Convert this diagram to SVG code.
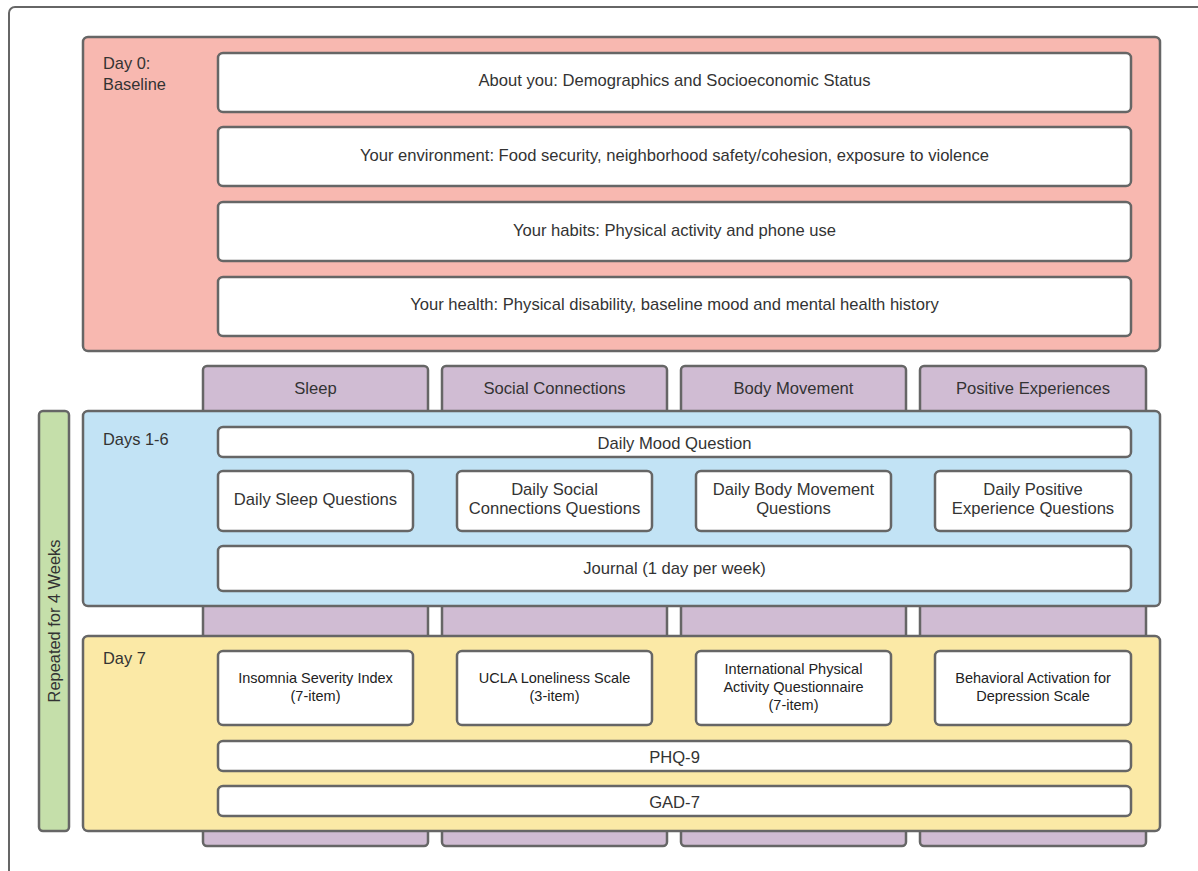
<svg xmlns="http://www.w3.org/2000/svg" width="1198" height="871" viewBox="0 0 1198 871">
<style>
text{font-family:"Liberation Sans",Arial,sans-serif;fill:#333;}
.t{font-size:16.6px;text-anchor:middle;}
.s{font-size:14.5px;text-anchor:middle;fill:#222;}
.l{font-size:16.4px;}
.box{fill:#fff;stroke:#666;stroke-width:2.5;}
.col{fill:#d0bcd3;stroke:#666;stroke-width:2.5;}
.sec{stroke:#666;stroke-width:2.5;}
</style>
<rect x="9" y="7" width="1200" height="880" rx="6" fill="#fff" stroke="#666" stroke-width="2"/>
<g id="columns">
<rect class="col" x="203" y="366" width="225" height="480" rx="4"/>
<rect class="col" x="442" y="366" width="225" height="480" rx="4"/>
<rect class="col" x="681" y="366" width="225" height="480" rx="4"/>
<rect class="col" x="920" y="366" width="226" height="480" rx="4"/>
<text class="t" x="315.5" y="394">Sleep</text>
<text class="t" x="554.5" y="394">Social Connections</text>
<text class="t" x="793.5" y="394">Body Movement</text>
<text class="t" x="1033" y="394">Positive Experiences</text>
</g>
<g id="baseline">
<rect class="sec" x="83" y="37" width="1077" height="314" rx="5" fill="#f8b8b0"/>
<text class="l" x="103" y="69">Day 0:</text>
<text class="l" x="103" y="90">Baseline</text>
<rect class="box" x="218" y="53" width="913" height="59" rx="5"/>
<text class="t" x="674.5" y="86">About you: Demographics and Socioeconomic Status</text>
<rect class="box" x="218" y="127" width="913" height="59" rx="5"/>
<text class="t" x="674.5" y="161">Your environment: Food security, neighborhood safety/cohesion, exposure to violence</text>
<rect class="box" x="218" y="202" width="913" height="59" rx="5"/>
<text class="t" x="674.5" y="236">Your habits: Physical activity and phone use</text>
<rect class="box" x="218" y="277" width="913" height="59" rx="5"/>
<text class="t" x="674.5" y="310">Your health: Physical disability, baseline mood and mental health history</text>
</g>
<g id="repeat">
<rect class="sec" x="39" y="411" width="30" height="420" rx="4" fill="#c5dfaa"/>
<text class="l" x="0" y="0" text-anchor="middle" transform="translate(59.5 621) rotate(-90)">Repeated for 4 Weeks</text>
</g>
<g id="days16">
<rect class="sec" x="83" y="411" width="1077" height="195" rx="5" fill="#c2e3f5"/>
<text class="l" x="103" y="445">Days 1-6</text>
<rect class="box" x="218" y="427" width="913" height="30" rx="5"/>
<text class="t" x="674.5" y="449">Daily Mood Question</text>
<rect class="box" x="218" y="471" width="195" height="60" rx="5"/>
<text class="t" x="315.5" y="505">Daily Sleep Questions</text>
<rect class="box" x="457" y="471" width="195" height="60" rx="5"/>
<text class="t" x="554.5" y="495">Daily Social</text>
<text class="t" x="554.5" y="514">Connections Questions</text>
<rect class="box" x="696" y="471" width="195" height="60" rx="5"/>
<text class="t" x="793.5" y="495">Daily Body Movement</text>
<text class="t" x="793.5" y="514">Questions</text>
<rect class="box" x="935" y="471" width="196" height="60" rx="5"/>
<text class="t" x="1033" y="495">Daily Positive</text>
<text class="t" x="1033" y="514">Experience Questions</text>
<rect class="box" x="218" y="546" width="913" height="45" rx="5"/>
<text class="t" x="674.5" y="574">Journal (1 day per week)</text>
</g>
<g id="day7">
<rect class="sec" x="83" y="636" width="1077" height="195" rx="5" fill="#fbe9a6"/>
<text class="l" x="103" y="664">Day 7</text>
<rect class="box" x="218" y="651" width="195" height="74" rx="5"/>
<text class="s" x="315.5" y="683">Insomnia Severity Index</text>
<text class="s" x="315.5" y="701">(7-item)</text>
<rect class="box" x="457" y="651" width="195" height="74" rx="5"/>
<text class="s" x="554.5" y="683">UCLA Loneliness Scale</text>
<text class="s" x="554.5" y="701">(3-item)</text>
<rect class="box" x="696" y="651" width="195" height="74" rx="5"/>
<text class="s" x="793.5" y="674">International Physical</text>
<text class="s" x="793.5" y="692">Activity Questionnaire</text>
<text class="s" x="793.5" y="710">(7-item)</text>
<rect class="box" x="935" y="651" width="196" height="74" rx="5"/>
<text class="s" x="1033" y="683">Behavioral Activation for</text>
<text class="s" x="1033" y="701">Depression Scale</text>
<rect class="box" x="218" y="741" width="913" height="30" rx="5"/>
<text class="t" x="674.5" y="763">PHQ-9</text>
<rect class="box" x="218" y="786" width="913" height="30" rx="5"/>
<text class="t" x="674.5" y="808">GAD-7</text>
</g>
</svg>
